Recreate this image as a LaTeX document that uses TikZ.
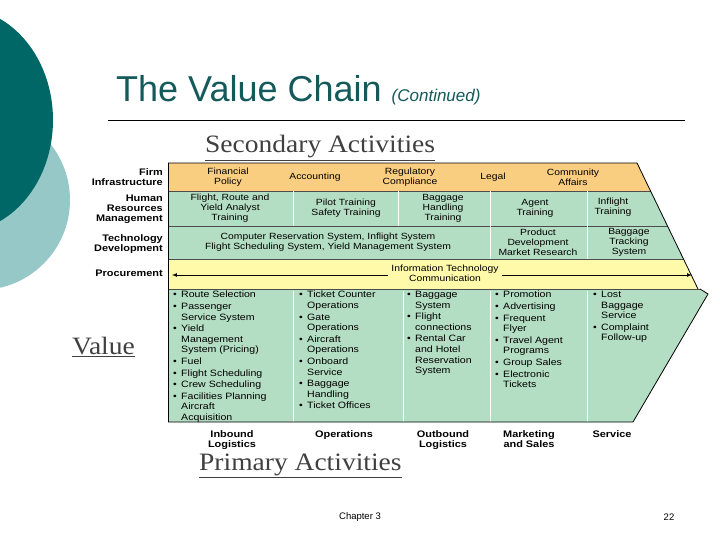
\documentclass[tikz,border=0pt]{standalone}
\usepackage{fontspec}
\setmainfont{Liberation Sans}
\newfontfamily\wide[FakeStretch=1.15]{Liberation Sans}
\newfontfamily\serifx[FakeStretch=1.1]{Liberation Serif}
\definecolor{tealdark}{RGB}{0,102,102}
\definecolor{teallight}{RGB}{150,200,200}
\definecolor{orng}{RGB}{250,206,128}
\definecolor{grn}{RGB}{180,222,195}
\definecolor{yel}{RGB}{255,250,170}
\definecolor{titlec}{RGB}{20,90,90}
\newcommand{\bx}{\makebox[8pt][l]{•}}
\newcommand{\ix}{\hspace*{8pt}}
\begin{document}
\begin{tikzpicture}[x=1pt,y=-1pt,
  cell/.style={align=center,font=\wide\fontsize{9}{10}\selectfont,inner sep=0pt},
  lst/.style={align=left,anchor=north west,font=\wide\fontsize{9.2}{10.6}\selectfont,inner sep=0pt},
  rlab/.style={align=right,anchor=east,font=\wide\fontsize{9.5}{10}\selectfont\bfseries,inner sep=0pt},
  blab/.style={align=center,anchor=north,font=\wide\fontsize{9.5}{10}\selectfont\bfseries,inner sep=0pt},
  big/.style={font=\serifx\fontsize{25}{27}\selectfont,inner sep=0pt,text=black!75}]
\useasboundingbox (0,0) rectangle (720,540);
\fill[white] (0,0) rectangle (720,540);
% decorative circles
\fill[teallight] (-20,200) circle[radius=90];
\fill[tealdark] (-40,120) ellipse[x radius=93,y radius=112];
% title
\node[anchor=base west,inner sep=0pt,text=titlec,font=\fontsize{36}{38}\selectfont] (title) at (116,102) {The Value Chain \fontsize{17}{18}\selectfont\itshape (Continued)};
\coordinate (r1) at (108,120); \coordinate (r2) at (685,120);
\draw[black,line width=0.6pt] (r1) -- (r2);
% secondary band
\begin{scope}
\clip (168,163) -- (637,163) -- (698,289) -- (168,289) -- cycle;
\fill[orng] (168,163) rectangle (720,191);
\fill[grn] (168,191) rectangle (720,259);
\fill[yel] (168,259) rectangle (720,289);
\draw[black!70,line width=0.5pt] (168,191) -- (720,191) (168,226) -- (720,226) (168,259) -- (720,259);
\draw[white,line width=1pt] (293,191) -- (293,226) (398,191) -- (398,226) (490,191) -- (490,259) (587,191) -- (587,259);
\end{scope}
\draw[black,line width=0.8pt] (168,163) -- (637,163) -- (698,289);
% primary band
\fill[grn] (168,289) -- (700,289) -- (708,294) -- (633,422) -- (168,422) -- cycle;
\draw[white,line width=1pt] (293,291) -- (293,422) (403,291) -- (403,422) (490,291) -- (490,422) (587,291) -- (587,422);
\draw[black!70,line width=0.5pt] (168,289) -- (700,289);
\draw[black,line width=0.8pt] (700,289) -- (708,294) -- (633,422) -- (168,422);
\draw[black,line width=0.8pt] (168,163) -- (168,422);
% row labels
\node[rlab] (lf) at (163,177) {Firm\\Infrastructure};
\node[rlab] (lh) at (163,209) {Human\\Resources\\Management};
\node[rlab] (lt) at (163,244) {Technology\\Development};
\node[rlab] (lp) at (163,273) {Procurement};
% firm row
\node[cell] (f1) at (228,177) {Financial\\Policy};
\node[cell] (f2) at (315,177) {Accounting};
\node[cell] (f3) at (410,177) {Regulatory\\Compliance};
\node[cell] (f4) at (493,177) {Legal};
\node[cell] (f5) at (573,177) {Community\\Affairs};
% HR row
\node[cell] (h1) at (230,208) {Flight, Route and\\Yield Analyst\\Training};
\node[cell] (h2) at (346,208) {Pilot Training\\Safety Training};
\node[cell] (h3) at (443,208) {Baggage\\Handling\\Training};
\node[cell] (h4) at (535,208) {Agent\\Training};
\node[cell] (h5) at (613,207) {Inflight\\Training};
% tech row
\node[cell] (t1) at (328,242) {Computer Reservation System, Inflight System\\Flight Scheduling System, Yield Management System};
\node[cell] (t2) at (538,242) {Product\\Development\\Market Research};
\node[cell] (t3) at (629,242) {Baggage\\Tracking\\System};
% procurement
\node[cell,fill=yel,inner xsep=3pt] (p1) at (445,273) {Information Technology\\Communication};
\coordinate (pl) at (172,275); \coordinate (pr) at (692,275);
\draw[-latex,line width=0.7pt] (p1.west |- pl) -- (pl);
\draw[-latex,line width=0.7pt] (p1.east |- pr) -- (pr);
% primary lists
\node[lst] (c1) at (173,291) {\bx Route Selection\\[1pt]
\bx Passenger\\\ix Service System\\[1pt]
\bx Yield\\\ix Management\\\ix System (Pricing)\\[1pt]
\bx Fuel\\[1pt]
\bx Flight Scheduling\\[1pt]
\bx Crew Scheduling\\[1pt]
\bx Facilities Planning\\\ix Aircraft\\\ix Acquisition};
\node[lst] (c2) at (299,291) {\bx Ticket Counter\\\ix Operations\\[1pt]
\bx Gate\\\ix Operations\\[1pt]
\bx Aircraft\\\ix Operations\\[1pt]
\bx Onboard\\\ix Service\\[1pt]
\bx Baggage\\\ix Handling\\[1pt]
\bx Ticket Offices};
\node[lst] (c3) at (407,291) {\bx Baggage\\\ix System\\[1pt]
\bx Flight\\\ix connections\\[1pt]
\bx Rental Car\\\ix and Hotel\\\ix Reservation\\\ix System};
\node[lst] (c4) at (495,291) {\bx Promotion\\[1pt]
\bx Advertising\\[1pt]
\bx Frequent\\\ix Flyer\\[1pt]
\bx Travel Agent\\\ix Programs\\[1pt]
\bx Group Sales\\[1pt]
\bx Electronic\\\ix Tickets};
\node[lst] (c5) at (593,291) {\bx Lost\\\ix Baggage\\\ix Service\\[1pt]
\bx Complaint\\\ix Follow-up};
% bottom labels
\node[blab] (b1) at (232,430) {Inbound\\Logistics};
\node[blab] (b2) at (344,430) {Operations};
\node[blab] (b3) at (443,430) {Outbound\\Logistics};
\node[blab] (b4) at (529,430) {Marketing\\and Sales};
\node[blab] (b5) at (612,430) {Service};
% big labels
\node[big,anchor=west] (sa) at (205,148) {\underline{Secondary Activities}};
\node[big,anchor=west] (va) at (72,347) {\underline{Value}};
\node[big,anchor=west] (pa) at (199,466) {\underline{Primary Activities}};
% footer
\node[inner sep=0pt,font=\fontsize{9.5}{10}\selectfont] (ch) at (360,517) {Chapter 3};
\node[inner sep=0pt,font=\fontsize{9.5}{10}\selectfont] (pg) at (669,517) {22};
\end{tikzpicture}
\end{document}
